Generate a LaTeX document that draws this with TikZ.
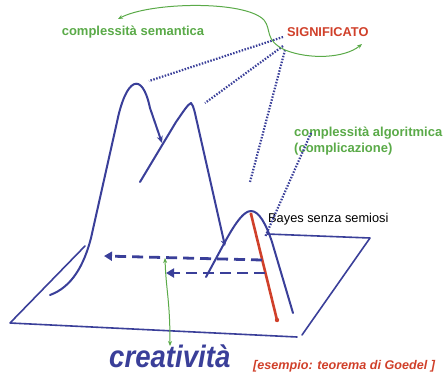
\documentclass[tikz,border=0pt]{standalone}
\usepackage{fontspec}
\setmainfont{Liberation Sans}
\usetikzlibrary{arrows.meta}
\definecolor{navy}{HTML}{3A3F99}
\definecolor{lgreen}{HTML}{5AAA48}
\definecolor{dred}{HTML}{D0402A}
\tikzset{
  bl/.style={draw=navy, line width=2pt, line cap=round, line join=round},
  dots/.style={draw=navy, line width=2.2pt, dash pattern=on 1.5pt off 1.5pt},
  dasharrow/.style={draw=navy, line width=2.8pt, dash pattern=on 11pt off 6pt, -{Triangle[length=8pt,width=9pt]}},
  garrow/.style={draw=lgreen, line width=1pt, {Stealth[length=5pt,width=4pt]}-{Stealth[length=5pt,width=4pt]}},
  glabel/.style={text=lgreen, font=\bfseries\fontsize{13}{15.5}\selectfont, inner sep=0pt, anchor=west},
}
\begin{document}
\begin{tikzpicture}[x=1pt,y=-1pt]
\useasboundingbox (0,0) rectangle (445,376);
% labels
\node[glabel, anchor=center] (sem) at (133,32) {complessità semantica};
\node[inner sep=0pt, anchor=west, text=dred, font=\bfseries\fontsize{12.8}{14}\selectfont] (sig) at (287,32) {SIGNIFICATO};
\node[glabel, align=left, anchor=north west] (alg) at (294,127) {complessità algoritmica\\(complicazione)};
\node[inner sep=0pt, anchor=west, font=\fontsize{12.8}{14}\selectfont] (bay) at (268,219) {Bayes senza semiosi};
\node[inner sep=0pt, anchor=base west, text=navy, font=\bfseries\itshape\fontsize{31}{33}\selectfont] (cre) at (109,367) {\scalebox{0.89}[1]{creatività}};
\node[inner sep=0pt, anchor=west, text=dred, font=\bfseries\itshape\fontsize{12.6}{14}\selectfont] (ese) at (253,366) {[esempio: teorema di Goedel ]};
% coordinates
\coordinate (s1) at (283,37);
\coordinate (s2) at (283,46);
\coordinate (s3) at (285,50);
\coordinate (d1) at (149,81);
\coordinate (d2) at (205,103);
\coordinate (d3) at (250,182);
\coordinate (a1) at (311,133);
\coordinate (d4) at (265,237);
% plane
\coordinate (pbl) at (10,323);
\coordinate (pbr) at (297,337);
\coordinate (prb) at (302,335);
\coordinate (prt) at (370,238);
\coordinate (ptl) at (267,234);
\coordinate (plt) at (85,246);
\draw[bl, line width=1.6pt] (plt) -- (pbl) -- (pbr);
\draw[bl, line width=1.6pt] (prb) -- (prt) (ptl) -- (prt);
% left peak
\draw[bl, -{Stealth[length=7pt,width=6pt]}] (50,295) .. controls (72,287) and (84,265) .. (91,238)
  -- (117,122) .. controls (126,78) and (142,70) .. (150,108) -- (162,143);
% second peak
\draw[bl, -{Stealth[length=6pt,width=6pt]}] (140,182) -- (176,122) .. controls (183,112) and (188,104) .. (191,103)
  .. controls (194,106) and (195,114) .. (197,122) -- (225,246);
% small peak
\draw[bl] (206,277) -- (226,240) .. controls (236,222) and (244,211) .. (251,211)
  .. controls (259,211) and (266,224) .. (272,242) -- (293,313);
% red line
\draw[draw=dred, line width=2.6pt, line cap=round] (251,214) -- (277,320);
\fill[dred] (251,214) circle (1.7pt) (277,320) circle (2.2pt);
% dashed arrows
\coordinate (da1) at (262,260);
\coordinate (da1e) at (104,256);
\coordinate (da2) at (265,273);
\coordinate (da2e) at (166,273);
\draw[dasharrow] (da1) -- (da1e);
\draw[dasharrow] (da2) -- (da2e);
% green creativity arrow
\draw[garrow] (165,258) .. controls (166,290) and (170,300) .. (170,346);
% dotted lines
\draw[dots] (s1) -- (d1);
\draw[dots] (s2) -- (d2);
\draw[dots] (s3) -- (d3);
\draw[dots] (a1) -- (d4);
% green semantic arrow
\draw[garrow] (118,19) .. controls (150,2) and (245,0) .. (264,20)
  .. controls (272,30) and (264,40) .. (285,50)
  .. controls (310,60) and (345,58) .. (362,44);
\end{tikzpicture}
\end{document}
